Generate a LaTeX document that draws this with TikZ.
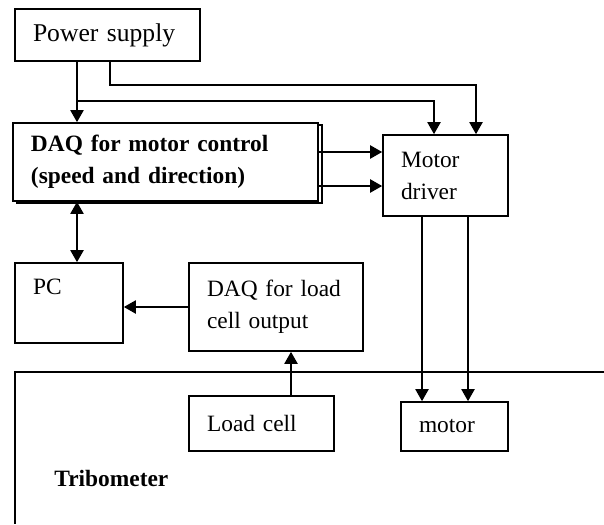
\documentclass[tikz,border=0pt]{standalone}
\usepackage{fontspec}
\setmainfont{Liberation Serif}
\usetikzlibrary{arrows.meta,shadows}

\tikzset{
  blk/.style={draw, line width=0.8pt, align=left, inner xsep=9pt, inner ysep=0pt},
  arr/.style={line width=1pt, -{Triangle[length=6pt,width=6.5pt]}},
  arrb/.style={line width=1pt, {Triangle[length=6pt,width=6.5pt]}-{Triangle[length=6pt,width=6.5pt]}},
}

\begin{document}
\begin{tikzpicture}[x=0.5pt, y=-0.5pt, font=\fontsize{11.7}{16}\selectfont]
    \useasboundingbox (0,0) rectangle (604,524);

    % Control side
    \node[blk, text width=74.5pt, minimum height=26pt, font=\fontsize{12.8}{16}\selectfont] (psu) at (107.5,35) {Power supply};
    \node[blk, fill=white, copy shadow={shadow xshift=2pt, shadow yshift=-1pt, draw, fill=white, line width=0.8pt},
          text width=134.5pt, minimum height=39pt, font=\fontsize{11.7}{16}\selectfont\bfseries] (daqm) at (165.5,162) {DAQ for motor control\\(speed and direction)};
    \node[blk, text width=44.5pt, minimum height=40.5pt] (md) at (445.5,175.5) {Motor\\driver};
    \node[blk, text width=36pt, minimum height=40pt, text depth=16pt] (pc) at (69,303) {PC};
    \node[blk, text width=69pt, minimum height=44pt] (daql) at (276,307) {DAQ for load\\cell output};

    % Tribometer
    \draw[line width=0.8pt] (604,372) -- (15,372) -- (15,524);
    \node[blk, text width=54.5pt, minimum height=27.5pt] (lc) at (261.5,423.5) {Load cell};
    \node[blk, text width=35.5pt, minimum height=24.5pt] (mot) at (454.5,426.5) {motor};
    \node[anchor=west, inner sep=0pt, font=\fontsize{11.7}{16}\selectfont\bfseries] (tribo) at (54,478) {Tribometer};

    % Wiring
    \coordinate (tap) at (77,0);
    \coordinate (tap2) at (110,0);
    \coordinate (j1) at (77,101);
    \coordinate (d1) at (434,0);
    \coordinate (d2) at (476,0);
    \coordinate (h1) at (0,152);
    \coordinate (h2) at (0,186);
    \coordinate (m1) at (422,0);
    \coordinate (m2) at (468,0);
    \coordinate (lt) at (291,0);
    \draw[arr] (psu.south -| tap) -- (daqm.north -| tap);
    \draw[arr] (j1) -| (md.north -| d1);
    \draw[arr] (psu.south -| tap2) -- ++(0,23) -| (md.north -| d2);
    \draw[arr] (daqm.east |- h1) -- (md.west |- h1);
    \draw[arr] (daqm.east |- h2) -- (md.west |- h2);
    \draw[arrb] (daqm.south -| tap) -- (pc.north -| tap);
    \draw[arr] (daql.west) -- (pc.east |- daql.west);
    \draw[arr] (lc.north -| lt) -- (daql.south -| lt);
    \draw[arr] (md.south -| m1) -- (mot.north -| m1);
    \draw[arr] (md.south -| m2) -- (mot.north -| m2);
\end{tikzpicture}
\end{document}
